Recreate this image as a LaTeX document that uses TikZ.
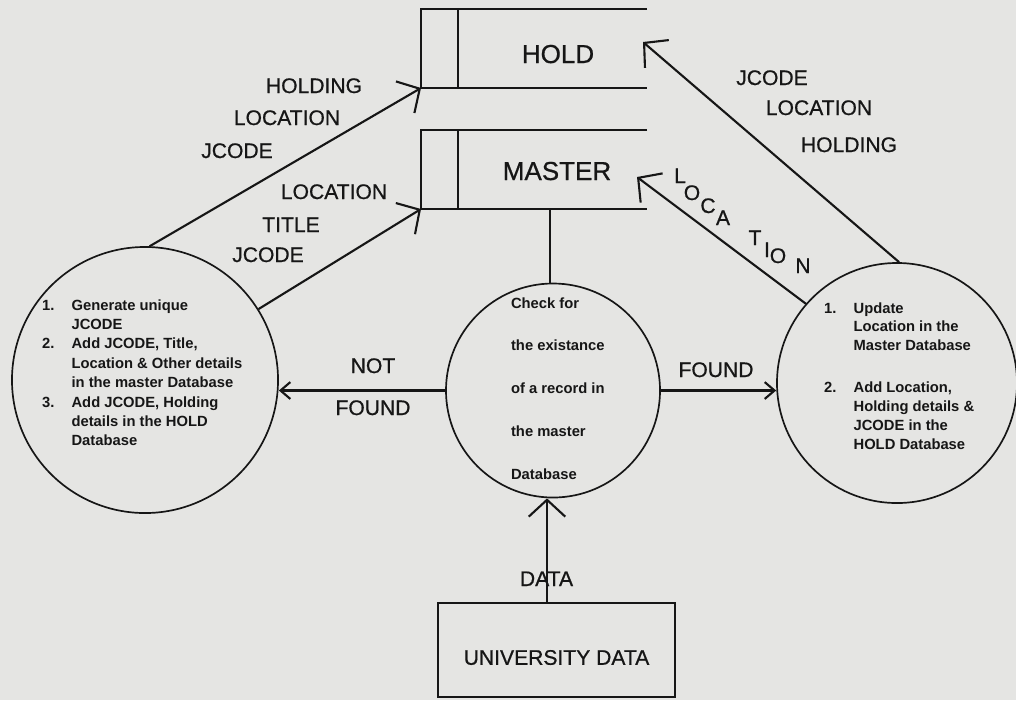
\documentclass[tikz,border=0pt]{standalone}
\usepackage{fontspec}
\setmainfont{Liberation Sans}
\newfontfamily\scanfont[FakeBold = 0.7]{Liberation Sans}
\usetikzlibrary{arrows.meta}

\definecolor{paper}{RGB}{229,229,227}
\definecolor{ink}{RGB}{22,22,22}

\begin{document}
\begin{tikzpicture}[x = 0.025cm, y = -0.025cm, color = ink, line width = 1.5pt,
	flow/.style = {-{Straight Barb[length = 12pt, width = 26pt]}},
	smallflow/.style = {-{Straight Barb[length = 7pt, width = 12pt]}},
	process/.style = {circle, draw, line width = 1.2pt, inner sep = 0pt},
	proctext/.style = {inner sep = 0pt, font = \fontsize{10.5}{13.8}\selectfont\bfseries},
	flowlabel/.style = {inner sep = 0pt, anchor = base, font = \fontsize{15}{18}\selectfont\scanfont},
	storelabel/.style = {inner sep = 0pt, anchor = base, font = \fontsize{18.5}{22}\selectfont\scanfont}]

	% Page

	\useasboundingbox (0, 0) rectangle (1016, 700);
	\fill [paper] (0, 0) rectangle (1016, 700);

	% Data stores (open on the right)

	\foreach \y in {9, 130}
	{
		\draw [line width = 1.2pt] (647, \y) -- (421, \y) -- (421, \y + 79) -- (647, \y + 79);
		\draw [line width = 1.2pt] (458, \y) -- (458, \y + 79);
	}

	\node [storelabel] (hold) at (558, 63) {HOLD};
	\node [storelabel] (master) at (557, 180) {MASTER};

	\coordinate (holdIn) at (421, 88);
	\coordinate (holdUpd) at (643, 42);
	\coordinate (masterIn) at (421, 209);
	\coordinate (masterUpd) at (637, 177);
	\coordinate (masterOut) at (550, 209);

	% Processes

	\node [process, minimum size = 189.2pt] (newProc) at (145, 380) {};
	\node [process, minimum size = 152.2pt] (checkProc) at (553, 390.5) {};
	\node [process, minimum size = 170.7pt] (updProc) at (897, 383) {};

	\node [proctext, anchor = base west] (newText) at (41, 310)
		{\begin{tabular}[t]{@{}p{21pt}@{}l@{}}
			1. & Generate unique\\
			   & JCODE\\
			2. & Add JCODE, Title,\\
			   & Location \& Other details\\
			   & in the master Database\\
			3. & Add JCODE, Holding\\
			   & details in the HOLD\\
			   & Database
		\end{tabular}};

	\node [proctext, anchor = base west, font = \fontsize{10.5}{30.5}\selectfont\bfseries] (checkText) at (510, 308)
		{\begin{tabular}[t]{@{}l@{}}
			Check for\\
			the existance\\
			of a record in\\
			the master\\
			Database
		\end{tabular}};

	\node [proctext, anchor = base west, font = \fontsize{10.5}{13.5}\selectfont\bfseries] (updText) at (823, 313)
		{\begin{tabular}[t]{@{}p{21pt}@{}l@{}}
			1. & Update\\
			   & Location in the\\
			   & Master Database\\[16pt]
			2. & Add Location,\\
			   & Holding details \&\\
			   & JCODE in the\\
			   & HOLD Database
		\end{tabular}};

	% External entity

	\node [draw, line width = 1.2pt, minimum width = 168.6pt, minimum height = 66.9pt,
		text height = 21pt, text depth = 0pt, font = \fontsize{15}{18}\selectfont\scanfont] (uniData) at (556.5, 650) {UNIVERSITY DATA};

	\coordinate (dataLine) at (547, 0);

	% Flows

	\draw [flow] (newProc.88) -- (holdIn);
	\draw [flow] (newProc.32) -- (masterIn);
	\draw [flow] (updProc.89) -- (holdUpd);
	\draw [flow] (updProc.139) -- (masterUpd);
	\draw (masterOut |- checkProc.north) -- (masterOut);
	\draw [smallflow] (checkProc.west) -- (checkProc.west -| newProc.east);
	\draw [smallflow] (checkProc.east) -- (checkProc.east -| updProc.west);
	\draw [flow] (uniData.north -| dataLine) -- (dataLine |- checkProc.south);

	% Flow labels

	\node [flowlabel] (lHolding) at (314, 93) {HOLDING};
	\node [flowlabel] (lLocation) at (287, 125) {LOCATION};
	\node [flowlabel] (lJcode) at (237, 158) {JCODE};

	\node [flowlabel] (mLocation) at (334, 199) {LOCATION};
	\node [flowlabel] (mTitle) at (291, 232) {TITLE};
	\node [flowlabel] (mJcode) at (268, 262) {JCODE};

	\node [flowlabel] (rJcode) at (772, 85) {JCODE};
	\node [flowlabel] (rLocation) at (819, 115) {LOCATION};
	\node [flowlabel] (rHolding) at (849, 152) {HOLDING};

	\foreach \ch/\x/\y in {L/680/183, O/692/200, C/708/213, A/723/225, T/755/245, I/767/257, O/778/263, N/803/273}
		\node [flowlabel] (loc-\x) at (\x, \y) {\ch};

	\node [flowlabel] (notLbl) at (373, 373) {NOT};
	\node [flowlabel] (notFound) at (373, 415) {FOUND};
	\node [flowlabel] (found) at (716, 377) {FOUND};
	\node [flowlabel] (dataLbl) at (546.5, 586) {DATA};

\end{tikzpicture}
\end{document}
